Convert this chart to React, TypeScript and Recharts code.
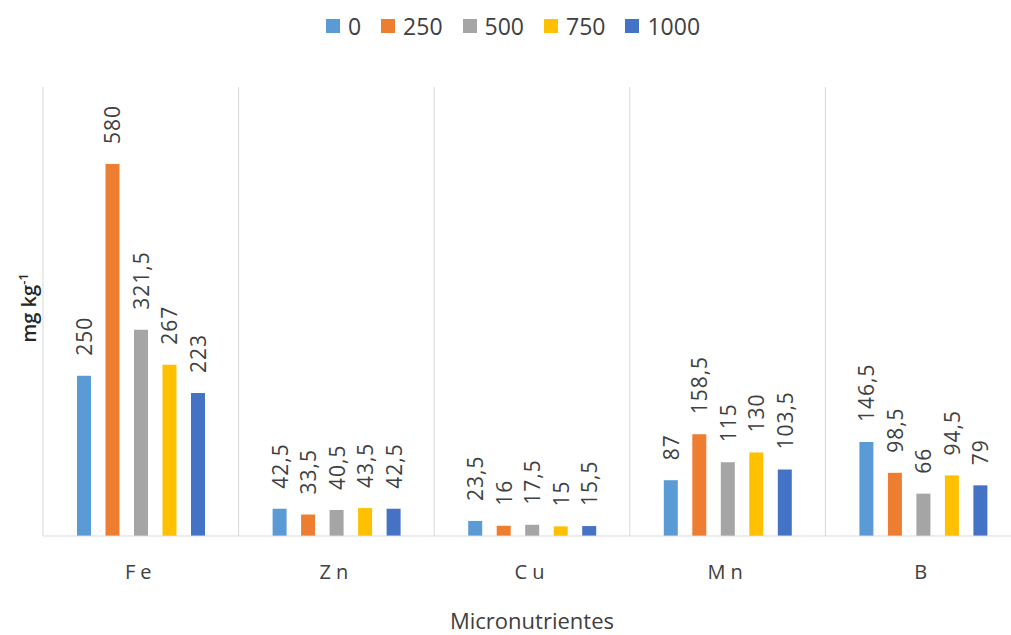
import { BarChart, Bar, XAxis, YAxis, CartesianGrid, LabelList, Label } from "recharts";

const nutrients = ["Fe", "Zn", "Cu", "Mn", "B"];
const doses = ["0", "250", "500", "750", "1000"];
const colors = ["#5b9bd5", "#ed7d31", "#a5a5a5", "#ffc000", "#4472c4"];

// one array per dose, in the order of the nutrients
const dose0 = [250, 42.5, 23.5, 87, 146.5];
const dose250 = [580, 33.5, 16, 158.5, 98.5];
const dose500 = [321.5, 40.5, 17.5, 115, 66];
const dose750 = [267, 43.5, 15, 130, 94.5];
const dose1000 = [223, 42.5, 15.5, 103.5, 79];

const seriesValues = [dose0, dose250, dose500, dose750, dose1000];

const data = nutrients.map((name, i) => {
  const row: Record<string, any> = { name };
  doses.forEach((d, j) => {
    row["d" + d] = seriesValues[j][i];
  });
  return row;
});

const FONT = "'Open Sans', 'Liberation Sans', sans-serif";
const TEXT = "#404040";

function fmt(v: number) {
  return String(v).replace(".", ",");
}

function RotatedLabel(props: any) {
  const { x, y, width, value } = props;
  const cx = x + width / 2;
  const ty = y - 20;
  return (
    <text
      x={cx}
      y={ty}
      transform={`rotate(-90 ${cx} ${ty})`}
      textAnchor="start"
      dominantBaseline="central"
      fontSize={21}
      letterSpacing={1}
      fontFamily={FONT}
      fill={TEXT}
    >
      {fmt(value)}
    </text>
  );
}

function SpacedTick(props: any) {
  const { x, y, payload } = props;
  return (
    <text
      x={x}
      y={y + 35}
      textAnchor="middle"
      fontSize={20}
      fontFamily={FONT}
      fill={TEXT}
      letterSpacing={5}
    >
      {payload.value}
    </text>
  );
}

function LegendBox() {
  return (
    <div
      style={{
        position: "absolute",
        top: 10,
        left: 0,
        width: 1046,
        display: "flex",
        justifyContent: "center",
        fontFamily: FONT,
        fontSize: 23,
        color: TEXT,
      }}
    >
      {doses.map((d, i) => (
        <div key={d} style={{ display: "flex", alignItems: "center", marginRight: 20 }}>
          <span style={{ width: 14, height: 14, background: colors[i], marginRight: 8, display: "inline-block" }} />
          <span>{d}</span>
        </div>
      ))}
    </div>
  );
}

export default function App() {
  return (
    <div style={{ position: "absolute", left: 0, top: 0, width: 1011, height: 635, overflow: "hidden", background: "#fff" }}>
      <BarChart
        width={1030}
        height={635}
        data={data}
        margin={{ top: 87, right: 9, left: 43, bottom: 39 }}
        barSize={14}
        barGap={14.5}
      >
        <CartesianGrid
          horizontal={false}
          stroke="#d9d9d9"
          verticalCoordinatesGenerator={({ offset }: any) =>
            nutrients.map((_, i) => offset.left + (i * offset.width) / nutrients.length).concat(offset.left + offset.width)
          }
        />
        <XAxis
          dataKey="name"
          axisLine={{ stroke: "#d9d9d9" }}
          tickLine={false}
          height={60}
          tick={<SpacedTick />}
        >
          <Label value="Micronutrientes" position="insideBottom" offset={-33} fontSize={22} fontFamily={FONT} fill={TEXT} />
        </XAxis>
        <YAxis hide domain={[0, 700]} />
        {doses.map((d, i) => (
          <Bar key={d} dataKey={"d" + d} fill={colors[i]} isAnimationActive={false}>
            <LabelList dataKey={"d" + d} content={<RotatedLabel />} />
          </Bar>
        ))}
      </BarChart>
      <LegendBox />
      <div
        style={{
          position: "absolute",
          left: 28,
          top: 308,
          transform: "translate(-50%, -50%) rotate(-90deg)",
          whiteSpace: "nowrap",
          fontFamily: FONT,
          fontSize: 20,
          fontWeight: 600,
          color: "#262626",
        }}
      >
        mg kg<sup style={{ fontSize: 13 }}>-1</sup>
      </div>
    </div>
  );
}
